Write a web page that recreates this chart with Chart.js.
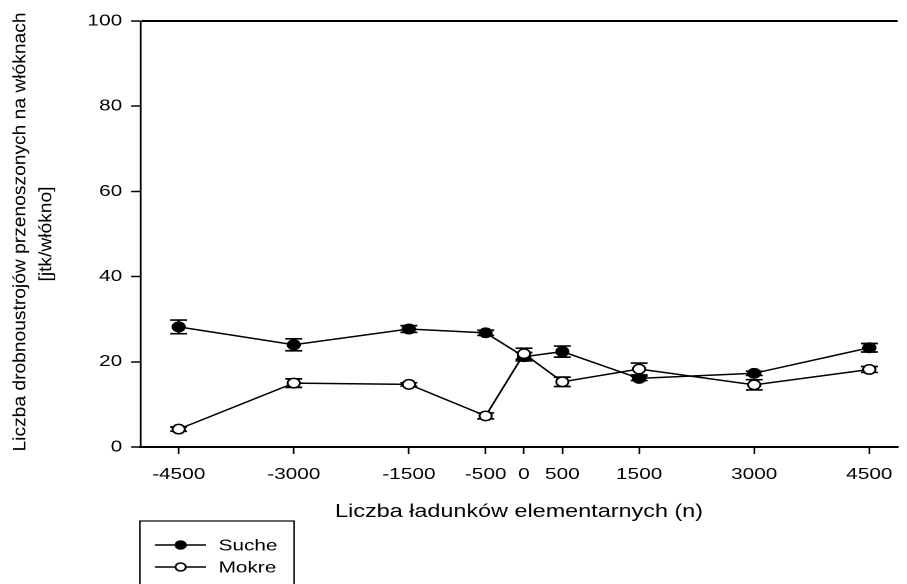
<!DOCTYPE html>
<html>
<head>
<meta charset="utf-8">
<script src="https://cdn.jsdelivr.net/npm/chart.js@4.4.0/dist/chart.umd.min.js"></script>
<style>
  html, body { margin: 0; padding: 0; background: #fff; overflow: hidden; }
  #chart { display: block; }
</style>
</head>
<body>
<!-- the source picture is widened sideways, so the canvas is drawn narrow and stretched by css -->
<canvas id="chart" width="698" height="584" style="width:907px;height:584px"></canvas>
<script>
const X_VALUES = [-4500, -3000, -1500, -500, 0, 500, 1500, 3000, 4500];
const SUCHE = [28.2, 24.0, 27.7, 26.8, 21.2, 22.4, 16.1, 17.3, 23.3];
const SUCHE_ERR = [1.6, 1.4, 0.8, 0.6, 1.0, 1.3, 0.5, 0.5, 1.0];
const MOKRE = [4.2, 15.0, 14.7, 7.3, 21.9, 15.3, 18.3, 14.6, 18.2];
const MOKRE_ERR = [0.5, 1.0, 0.4, 0.7, 1.3, 1.1, 1.4, 1.2, 0.7];
const Y_TICKS = [0, 20, 40, 60, 80, 100];
const SERIES_NAMES = ['Suche', 'Mokre'];
const X_TITLE = 'Liczba ładunków elementarnych (n)';
const Y_TITLE = ['Liczba drobnoustrojów przenoszonych na włóknach', '[jtk/włókno]'];

const FONT = "'Liberation Sans', Arial, sans-serif";
Chart.defaults.font.family = FONT;
Chart.defaults.color = '#000';

const toPoints = vals => vals.map((v, i) => ({x: X_VALUES[i], y: v}));

// vertical error bars with caps, drawn under the markers
const errorBars = {
    id: 'errorBars',
    beforeDatasetsDraw(chart) {
        const {ctx, scales: {x, y}} = chart;
        ctx.save();
        ctx.strokeStyle = '#000';
        ctx.lineWidth = 1.7;
        chart.data.datasets.forEach(ds => {
            ds.data.forEach((p, i) => {
                const err = ds.errors[i];
                const px = x.getPixelForValue(p.x);
                const top = y.getPixelForValue(p.y + err);
                const bot = y.getPixelForValue(p.y - err);
                ctx.beginPath();
                ctx.moveTo(px, top); ctx.lineTo(px, bot);
                ctx.moveTo(px - 6.5, top); ctx.lineTo(px + 6.5, top);
                ctx.moveTo(px - 6.5, bot); ctx.lineTo(px + 6.5, bot);
                ctx.stroke();
            });
        });
        ctx.restore();
    }
};

// rotated two line y title, pulled out along its length like the original
const yTitle = {
    id: 'yTitle',
    afterDraw(chart) {
        const ctx = chart.ctx;
        const cy = (chart.chartArea.top + chart.chartArea.bottom) / 2;
        ctx.save();
        ctx.fillStyle = '#000';
        ctx.font = '14px ' + FONT;
        const k = 439 / ctx.measureText(Y_TITLE[0]).width;
        [[19.3, cy - 2], [39.5, cy]].forEach(([bx, by], i) => {
            ctx.save();
            ctx.translate(bx, by);
            ctx.rotate(-Math.PI / 2);
            ctx.scale(k, 1);
            ctx.textAlign = 'center';
            ctx.textBaseline = 'alphabetic';
            ctx.fillText(Y_TITLE[i], 0, 0);
            ctx.restore();
        });
        ctx.restore();
    }
};

// boxed legend under the plot, left side
const boxLegend = {
    id: 'boxLegend',
    afterDraw(chart) {
        const ctx = chart.ctx;
        const left = 107.7, top = 521, w = 118.6;
        ctx.save();
        ctx.strokeStyle = '#000';
        ctx.lineWidth = 1.2;
        ctx.strokeRect(left, top, w, 90);
        ctx.font = '16px ' + FONT;
        ctx.textBaseline = 'middle';
        ctx.fillStyle = '#000';
        chart.data.datasets.forEach((ds, i) => {
            const rowY = 545 + i * 22;
            ctx.lineWidth = 1.5;
            ctx.beginPath();
            ctx.moveTo(left + 11.6, rowY);
            ctx.lineTo(left + 50.8, rowY);
            ctx.stroke();
            ctx.beginPath();
            ctx.arc(left + 31.3, rowY, 4, 0, Math.PI * 2);
            ctx.fillStyle = ds.pointBackgroundColor;
            ctx.fill();
            ctx.stroke();
            ctx.fillStyle = '#000';
            ctx.fillText(ds.label, left + 60.5, rowY + 1);
        });
        ctx.restore();
    }
};

new Chart(document.getElementById('chart'), {
    type: 'line',
    data: {
        datasets: [{
            label: SERIES_NAMES[0],
            data: toPoints(SUCHE),
            errors: SUCHE_ERR,
            order: 1,
            borderColor: '#000',
            borderWidth: 1.5,
            pointRadius: 4.7,
            pointBorderWidth: 1.5,
            pointBackgroundColor: '#000',
            pointBorderColor: '#000',
            tension: 0
        }, {
            label: SERIES_NAMES[1],
            data: toPoints(MOKRE),
            errors: MOKRE_ERR,
            order: 0,
            borderColor: '#000',
            borderWidth: 1.5,
            pointRadius: 4.7,
            pointBorderWidth: 1.5,
            pointBackgroundColor: '#fff',
            pointBorderColor: '#000',
            tension: 0
        }]
    },
    options: {
        responsive: false,
        devicePixelRatio: 2,
        animation: false,
        layout: { padding: { top: 21, right: 0, left: 0, bottom: 0 } },
        plugins: { legend: { display: false }, tooltip: { enabled: false } },
        scales: {
            x: {
                type: 'linear',
                min: -5000,
                max: 4870,
                afterBuildTicks: s => { s.ticks = X_VALUES.map(v => ({value: v})); },
                afterFit: s => { s.height = 137; },
                grid: { drawOnChartArea: false, tickLength: 7, tickColor: '#000', tickWidth: 1.3 },
                border: { color: '#000', width: 2 },
                ticks: {
                    color: '#000', font: { size: 16 }, padding: 11,
                    maxRotation: 0, autoSkip: false,
                    callback: v => String(v)
                },
                title: {
                    display: true, text: X_TITLE, color: '#000',
                    font: { size: 18 }, padding: { top: 0, bottom: 61 }
                }
            },
            y: {
                min: 0,
                max: 100,
                afterBuildTicks: s => { s.ticks = Y_TICKS.map(v => ({value: v})); },
                afterFit: s => { s.width = 108; },
                grid: {
                    color: c => (c.tick && c.tick.value === 100) ? '#000' : 'rgba(0,0,0,0)',
                    lineWidth: 2, tickColor: '#000', tickLength: 7, tickWidth: 1.5
                },
                border: { color: '#000', width: 1.4 },
                ticks: { color: '#000', font: { size: 16 }, padding: 7 }
            }
        }
    },
    plugins: [errorBars, yTitle, boxLegend]
});
</script>
</body>
</html>
